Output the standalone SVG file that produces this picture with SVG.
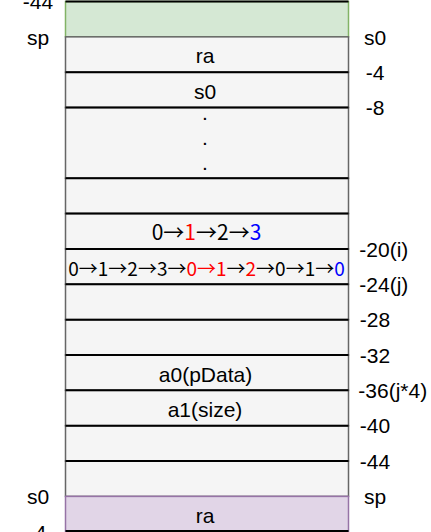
<svg xmlns="http://www.w3.org/2000/svg" width="431" height="532" viewBox="0 0 431 532">
<style>
.cell{fill:#f5f5f5;stroke:#666666;stroke-width:1.5}
.green{fill:#d5e8d4;stroke:#82b366;stroke-width:1.5}
.purple{fill:#e1d5e7;stroke:#9673a6;stroke-width:1.5}
.div{stroke:#000000;stroke-width:2;fill:none}
text{font-family:"Liberation Sans",Arial,sans-serif;font-size:21px;fill:#000000}
.c{text-anchor:middle}
.arr{font-family:"Noto Sans CJK SC","Noto Sans",sans-serif}
.r{fill:#ff0000}
.b{fill:#0000ff}
</style>
<rect width="431" height="532" fill="#ffffff"/>
<g id="cells">
<g id="cell-green"><rect class="green" x="65.5" y="1.5" width="283" height="35.35"/></g>
<g id="cell-ra"><rect class="cell" x="65.5" y="36.85" width="283" height="35.35"/><text class="c" x="205" y="63.3">ra</text></g>
<g id="cell-s0"><rect class="cell" x="65.5" y="72.2" width="283" height="35.35"/><text class="c" x="205" y="98.7">s0</text></g>
<g id="cell-dots"><rect class="cell" x="65.5" y="107.55" width="283" height="70.7"/><text class="c" x="205" y="119.8">.</text><text class="c" x="205" y="144.8">.</text><text class="c" x="205" y="169.8">.</text></g>
<g id="cell-blank1"><rect class="cell" x="65.5" y="178.25" width="283" height="35.35"/></g>
<g id="cell-i"><rect class="cell" x="65.5" y="213.6" width="283" height="35.35"/><text class="c arr" x="206.5" y="240">0→<tspan class="r">1</tspan>→2→<tspan class="b">3</tspan></text></g>
<g id="cell-j"><rect class="cell" x="65.5" y="248.95" width="283" height="35.35"/><text class="c arr" x="206.5" y="275.7" style="font-size:19px">0→1→2→3→<tspan class="r">0→1</tspan>→<tspan class="r">2</tspan>→0→1→<tspan class="b">0</tspan></text></g>
<g id="cell-blank2"><rect class="cell" x="65.5" y="284.3" width="283" height="35.35"/></g>
<g id="cell-blank3"><rect class="cell" x="65.5" y="319.65" width="283" height="35.35"/></g>
<g id="cell-a0"><rect class="cell" x="65.5" y="355" width="283" height="35.35"/><text class="c" x="205.5" y="381.5">a0(pData)</text></g>
<g id="cell-a1"><rect class="cell" x="65.5" y="390.35" width="283" height="35.35"/><text class="c" x="205" y="416.8">a1(size)</text></g>
<g id="cell-blank4"><rect class="cell" x="65.5" y="425.7" width="283" height="35.35"/></g>
<g id="cell-blank5"><rect class="cell" x="65.5" y="461.05" width="283" height="35.35"/></g>
<g id="cell-purple"><rect class="purple" x="65.5" y="496.4" width="283" height="35.35"/><text class="c" x="205" y="522.9">ra</text></g>
</g>
<g id="connectors">
<path class="div" d="M65.5 1.5H348.5M65.5 72.2H348.5M65.5 107.55H348.5M65.5 178.25H348.5M65.5 213.6H348.5M65.5 248.95H348.5M65.5 284.3H348.5M65.5 319.65H348.5M65.5 355H348.5M65.5 390.35H348.5M65.5 425.7H348.5M65.5 461.05H348.5M65.5 531H348.5"/>
</g>
<g id="labels-left">
<text class="c" x="38" y="9.2">-44</text>
<text class="c" x="38" y="44.5">sp</text>
<text class="c" x="38" y="504.1">s0</text>
<text class="c" x="37" y="539.5">-4</text>
</g>
<g id="labels-right">
<text class="c" x="375" y="44.5">s0</text>
<text class="c" x="375" y="79.9">-4</text>
<text class="c" x="375" y="115.25">-8</text>
<text x="359.3" y="256.65">-20(i)</text>
<text x="359.3" y="292">-24(j)</text>
<text class="c" x="375" y="327.35">-28</text>
<text class="c" x="375" y="362.7">-32</text>
<text x="358.3" y="398.05">-36(j*4)</text>
<text class="c" x="375" y="433.4">-40</text>
<text class="c" x="375" y="468.75">-44</text>
<text class="c" x="375" y="504.1">sp</text>
</g>
</svg>
